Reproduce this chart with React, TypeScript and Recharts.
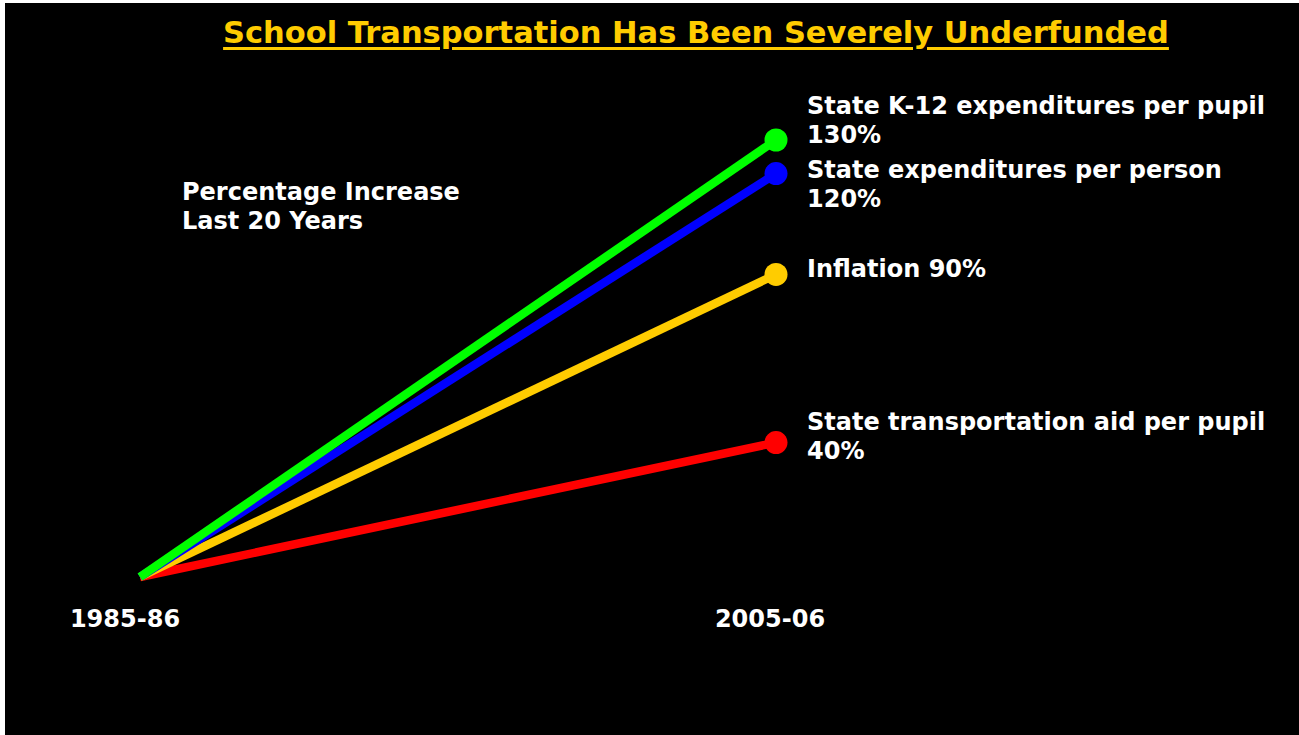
import { Line, LineChart, XAxis, YAxis } from "recharts";

const periods = ["1985-86", "2005-06"];
const k12PerPupil = [0, 130];
const statePerPerson = [0, 120];
const inflation = [0, 90];
const transportPerPupil = [0, 40];

const seriesNames = {
  transport: ["State transportation aid per pupil", "40%"],
  inflation: ["Inflation 90%"],
  person: ["State expenditures per person", "120%"],
  k12: ["State K-12 expenditures per pupil", "130%"],
};

const data = periods.map((p, i) => ({
  period: p,
  k12: k12PerPupil[i],
  person: statePerPerson[i],
  inflation: inflation[i],
  transport: transportPerPupil[i],
}));

const FONT = "'DejaVu Sans', Verdana, sans-serif";

// draw order: red first, green last (on top)
const series = [
  { key: "transport", color: "#ff0000", dy: -21 },
  { key: "inflation", color: "#ffcc00", dy: -5 },
  { key: "person", color: "#0000ff", dy: -4 },
  { key: "k12", color: "#00ff00", dy: -34 },
];

const tickShift = [-15, -6];

function EndDot(props: any, color: string) {
  const { cx, cy, index } = props;
  if (index !== data.length - 1) return <g key={`d-${index}`} />;
  return <circle key={`d-${index}`} cx={cx} cy={cy} r={11.5} fill={color} />;
}

function EndLabel(props: any, key: string, dy: number) {
  const { x, y, index } = props;
  if (index !== data.length - 1) return <g key={`l-${index}`} />;
  const lines = (seriesNames as any)[key] as string[];
  return (
    <g key={`l-${index}`}>
      {lines.map((t, i) => (
        <text
          key={t}
          x={x + 31}
          y={y + dy + i * 29}
          dominantBaseline="central"
          fill="#ffffff"
          fontFamily={FONT}
          fontWeight="bold"
          fontSize={24}
        >
          {t}
        </text>
      ))}
    </g>
  );
}

function PeriodTick(props: any) {
  const { x, y, payload, index } = props;
  return (
    <text
      x={x + (tickShift[index] ?? 0)}
      y={y + 34}
      textAnchor="middle"
      dominantBaseline="central"
      fill="#ffffff"
      fontFamily={FONT}
      fontWeight="bold"
      fontSize={24}
    >
      {payload.value}
    </text>
  );
}

export default function App() {
  return (
    <div
      style={{
        position: "absolute",
        left: 5,
        top: 3,
        width: 1294,
        height: 732,
        background: "#000000",
        fontFamily: FONT,
      }}
    >
      <div
        style={{
          position: "absolute",
          left: 0,
          width: 1382,
          top: 14,
          textAlign: "center",
          color: "#ffcc00",
          fontWeight: "bold",
          fontSize: 30.5,
          lineHeight: "31px",
          textDecoration: "underline",
          textDecorationThickness: 3,
          textUnderlineOffset: 4,
          whiteSpace: "nowrap",
        }}
      >
        School Transportation Has Been Severely Underfunded
      </div>
      <div
        style={{
          position: "absolute",
          left: 177,
          top: 175,
          color: "#ffffff",
          fontWeight: "bold",
          fontSize: 24,
          lineHeight: "29px",
          whiteSpace: "nowrap",
        }}
      >
        Percentage Increase
        <br />
        Last 20 Years
      </div>
      <div style={{ position: "absolute", left: 0, top: 0 }}>
        <LineChart
          width={1294}
          height={732}
          data={data}
          margin={{ top: 137, right: 523, bottom: 118, left: 135 }}
        >
          <XAxis
            dataKey="period"
            axisLine={false}
            tickLine={false}
            height={40}
            interval={0}
            tick={PeriodTick}
          />
          <YAxis hide domain={[0, 130]} />
          {series.map((s) => (
            <Line
              key={s.key}
              type="linear"
              dataKey={s.key}
              stroke={s.color}
              strokeWidth={8.5}
              dot={(p: any) => EndDot(p, s.color)}
              activeDot={false}
              label={(p: any) => EndLabel(p, s.key, s.dy)}
              isAnimationActive={false}
            />
          ))}
        </LineChart>
      </div>
    </div>
  );
}
